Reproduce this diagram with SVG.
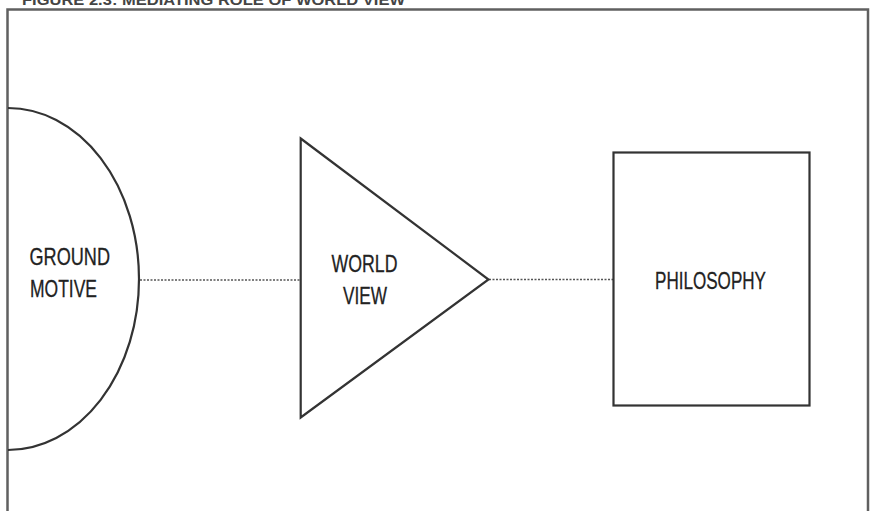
<svg xmlns="http://www.w3.org/2000/svg" width="870" height="511" viewBox="0 0 870 511">
  <style>
    .shape { fill: none; stroke: #333; stroke-width: 2.2; }
    .frame { fill: none; stroke: #606060; stroke-width: 2.5; }
    .conn { fill: none; stroke: #555; stroke-width: 1.6; stroke-dasharray: 2 1.5; }
    .lbl { font-family: "Liberation Sans", Arial, sans-serif; font-size: 24px; fill: #222; stroke: #222; stroke-width: 0.3; }
    .title { font-family: "Liberation Sans", Arial, sans-serif; font-size: 14px; font-weight: bold; fill: #444; }
  </style>
  <rect width="870" height="511" fill="#ffffff"/>
  <text class="title" x="22" y="4.5" textLength="383" lengthAdjust="spacingAndGlyphs">FIGURE 2.3: MEDIATING ROLE OF WORLD VIEW</text>
  <path class="frame" d="M7.5,511 V9.5 H868 V511"/>
  <g id="connectors">
    <line class="conn" x1="140" y1="280" x2="300" y2="280"/>
    <line class="conn" x1="489" y1="279.5" x2="613" y2="279.5"/>
  </g>
  <g id="ground-motive">
    <path class="shape" d="M8,108 A131,171 0 0 1 8,450"/>
    <text class="lbl" x="29.5" y="265" textLength="80.5" lengthAdjust="spacingAndGlyphs">GROUND</text>
    <text class="lbl" x="30" y="296.5" textLength="67" lengthAdjust="spacingAndGlyphs">MOTIVE</text>
  </g>
  <g id="world-view">
    <polygon class="shape" points="300.7,138.5 488.5,279.5 300.7,417.5"/>
    <text class="lbl" x="331.5" y="271.5" textLength="66" lengthAdjust="spacingAndGlyphs">WORLD</text>
    <text class="lbl" x="343" y="303.5" textLength="44" lengthAdjust="spacingAndGlyphs">VIEW</text>
  </g>
  <g id="philosophy">
    <rect class="shape" x="613.5" y="152.5" width="196" height="253"/>
    <text class="lbl" x="655" y="288.5" textLength="111" lengthAdjust="spacingAndGlyphs">PHILOSOPHY</text>
  </g>
</svg>
